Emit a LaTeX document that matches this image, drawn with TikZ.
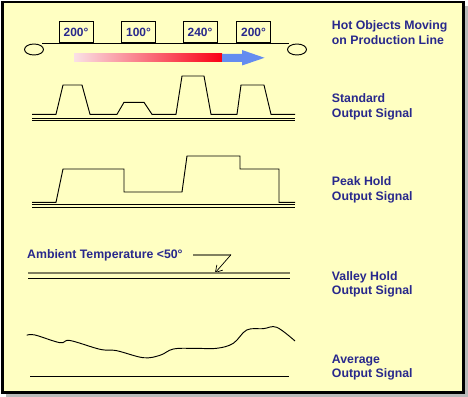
\documentclass[tikz,border=0pt]{standalone}
\usepackage{fontspec}
\setmainfont{Liberation Sans}
\usetikzlibrary{arrows.meta}

\definecolor{bgyellow}{RGB}{255,255,194}
\definecolor{txtblue}{RGB}{40,40,140}
\definecolor{olive}{RGB}{128,128,96}
\definecolor{arrowblue}{RGB}{100,140,240}
\definecolor{pinkstart}{RGB}{250,225,230}
\definecolor{hotred}{RGB}{250,0,20}

\begin{document}
\begin{tikzpicture}[x=0.03cm, y=-0.03cm, >={Straight Barb[length=2mm, width=2.4mm]},
    lbl/.style={anchor=west, align=left, inner sep=0pt, text=txtblue, font=\bfseries\fontsize{10.5}{12.4}\selectfont},
    tbox/.style={draw, line width=0.7pt, fill=bgyellow, anchor=south, minimum width=1.02cm, minimum height=0.63cm, inner sep=0pt, text=txtblue, font=\bfseries\fontsize{10.2}{12}\selectfont},
    sig/.style={line width=0.8pt, line join=miter}]
    \useasboundingbox (0,0) rectangle (468,397);

    % Frame with shadow
    \fill[gray!55] (6,6) rectangle (468,397);
    \draw[line width=2pt, fill=bgyellow] (2.5,2) rectangle (463.5,392.5);

    % Production line
    \draw[sig] (34,49.5) ellipse [x radius=9.5, y radius=5.5];
    \draw[sig] (297,49.5) ellipse [x radius=9.5, y radius=5.5];
    \draw[sig] (42,43) -- (289,43);
    \node[tbox] (b1) at (76,43) {200°};
    \node[tbox] (b2) at (138.5,43) {100°};
    \node[tbox] (b3) at (200,43) {240°};
    \node[tbox] (b4) at (253.5,43) {200°};

    % Direction arrow
    \shade[left color=pinkstart, right color=hotred] (74,54) rectangle (222,62);
    \fill[arrowblue] (222,54) -- (242,54) -- (242,50) -- (264.5,57.8) -- (242,65.5) -- (242,62) -- (222,62) -- cycle;

    % Standard output signal
    \draw[sig] (32,114.3) -- (56,114.3) -- (63,85) -- (82,85) -- (90,114.3) -- (117,114.3)
        -- (124,102.3) -- (144,102.3) -- (152,114.3) -- (176,114.3) -- (182,76) -- (204,76)
        -- (211,114.3) -- (237,114.3) -- (241,85) -- (264,85) -- (271,114.3) -- (295,114.3);
    \draw[sig] (32,118) -- (295,118);
    \draw[sig] (32,120.5) -- (295,120.5);

    % Peak hold output signal
    \draw[sig] (32,202.3) -- (56,202.3) -- (63,169) -- (124,169) -- (124,192) -- (182,192)
        -- (187,156) -- (240,156) -- (240,169) -- (279,169) -- (279,202.3) -- (295,202.3);
    \draw[sig] (32,204.8) -- (295,204.8);
    \draw[sig] (32,207) -- (295,207);

    % Valley hold output signal
    \node[lbl] (amb) at (27,255) {Ambient Temperature <50°};
    \coordinate (k1) at (193,254.7);
    \coordinate (k2) at (231,254.7);
    \coordinate (k3) at (215,273);
    \draw[olive, line width=1.6pt] (k1) -- (k2);
    \draw[->, line width=0.6pt] (k2) -- (k3);
    \draw[olive, line width=1.6pt] (28,273.3) -- (290,273.3);
    \draw[sig] (28,278.3) -- (290,278.3);

    % Average output signal
    \draw[sig, smooth, tension=0.6] plot coordinates {(26.7,335.3) (35,335) (60,342.7) (70,340.5)
        (100,349.3) (116.7,350.7) (143.3,357.7) (160,355.3) (173.3,349) (193.3,348.3)
        (216.7,348.3) (233.3,343.3) (246.7,330) (263.3,328.7) (276.7,327.3) (295,341)};
    \draw[sig] (30,376) -- (289,376);

    % Labels
    \node[lbl] (l1) at (331.7,32.8) {Hot Objects Moving\\on Production Line};
    \node[lbl] (l2) at (331.7,106.7) {Standard\\Output Signal};
    \node[lbl] (l3) at (331.7,190) {Peak Hold\\Output Signal};
    \node[lbl] (l4) at (331.7,284.3) {Valley Hold\\Output Signal};
    \node[lbl] (l5) at (331.7,367.5) {Average\\Output Signal};
\end{tikzpicture}
\end{document}
